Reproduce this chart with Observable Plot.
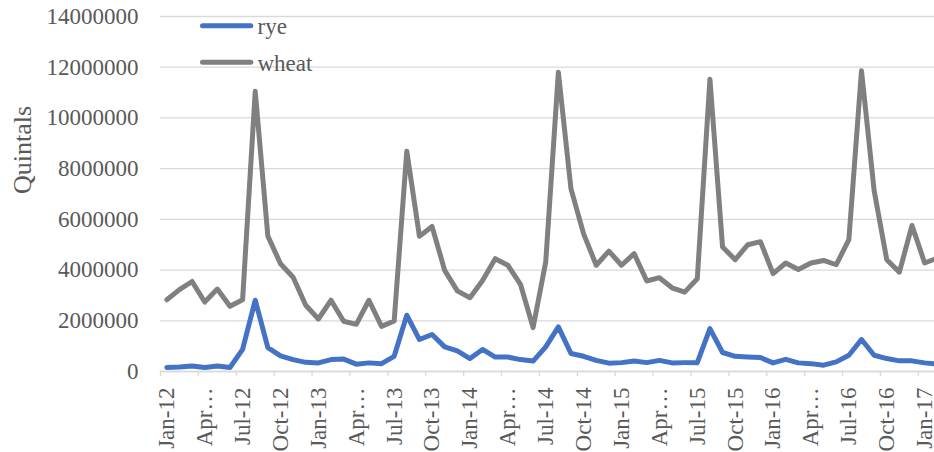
<!DOCTYPE html>
<html>
<head>
<meta charset="utf-8">
<script src="https://cdn.jsdelivr.net/npm/d3@7"></script>
<script src="https://cdn.jsdelivr.net/npm/@observablehq/plot@0.6"></script>
<style>
  body { margin: 0; background: #fff; }
  #wrap { position: relative; width: 934px; height: 452px; overflow: hidden; font-family: "Liberation Serif", "Times New Roman", serif; }
  #legend { position: absolute; left: 0; top: 0; pointer-events: none; }
</style>
</head>
<body>
<div id="wrap"></div>
<script>
// Category tick labels (every third month, Jan-12 .. Jan-17)
const tickLabels = ["Jan-12","Apr…","Jul-12","Oct-12","Jan-13","Apr…","Jul-13","Oct-13",
  "Jan-14","Apr…","Jul-14","Oct-14","Jan-15","Apr…","Jul-15","Oct-15",
  "Jan-16","Apr…","Jul-16","Oct-16","Jan-17"];

// Monthly values, Jan-12 .. Feb-17 (quintals)
const rye = [160000,180000,220000,160000,220000,160000,870000,2810000,940000,620000,
  470000,360000,340000,470000,490000,290000,340000,310000,600000,2220000,
  1260000,1460000,970000,810000,510000,870000,570000,570000,470000,410000,
  970000,1760000,710000,600000,440000,330000,350000,410000,350000,440000,
  340000,350000,350000,1690000,750000,600000,570000,550000,340000,480000,
  340000,310000,250000,380000,640000,1260000,640000,510000,420000,420000,
  340000,290000];

const wheat = [2830000,3230000,3550000,2740000,3250000,2570000,2830000,11050000,5340000,4250000,
  3720000,2610000,2070000,2810000,1980000,1860000,2810000,1780000,1990000,8690000,
  5330000,5720000,3990000,3180000,2910000,3590000,4450000,4190000,3440000,1730000,
  4320000,11800000,7200000,5430000,4190000,4750000,4190000,4650000,3570000,3700000,
  3300000,3130000,3660000,11530000,4910000,4410000,5000000,5120000,3860000,4280000,
  4020000,4280000,4380000,4210000,5200000,11860000,7140000,4410000,3920000,5760000,
  4280000,4470000];

const seriesNames = ["rye", "wheat"];
const seriesColors = ["#4472C4", "#808080"];
const yTicks = [0, 2000000, 4000000, 6000000, 8000000, 10000000, 12000000, 14000000];

const rows = [
  ...rye.map((v, i) => ({ i, v, s: "rye" })),
  ...wheat.map((v, i) => ({ i, v, s: "wheat" }))
];
const labelIdx = tickLabels.map((_, k) => k * 3);
const boundaries = tickLabels.map((_, k) => k * 3 - 0.5);

const chart = Plot.plot({
  width: 934,
  height: 452,
  marginLeft: 160,
  marginRight: 0,
  marginTop: 16,
  marginBottom: 81,
  style: { fontFamily: "'Liberation Serif', 'Times New Roman', serif", fontSize: "23px", color: "#595959", background: "#fff" },
  x: { type: "linear", domain: [-0.5, 60.78] },
  y: { domain: [0, 14000000] },
  color: { domain: seriesNames, range: seriesColors },
  marks: [
    Plot.gridY(yTicks, { stroke: "#D9D9D9", strokeOpacity: 1, strokeWidth: 1.3 }),
    Plot.axisY(yTicks, { tickSize: 0, tickPadding: 22, tickFormat: d => String(d), label: null, fill: "#595959" }),
    Plot.text(["Quintals"], { frameAnchor: "left", rotate: -90, dx: -138, fontSize: 26, fill: "#595959" }),
    Plot.axisX(boundaries, { tickSize: 5, tickFormat: () => "", stroke: "#D9D9D9", strokeWidth: 1.3, label: null }),
    Plot.axisX(labelIdx, { tickSize: 0, tickRotate: -90, tickPadding: 16, tickFormat: d => tickLabels[d / 3], label: null, fill: "#595959" }),
    Plot.ruleY([0], { stroke: "#D9D9D9", strokeWidth: 1.3 }),
    Plot.line(rows, { x: "i", y: "v", z: "s", stroke: "s", strokeWidth: 5, strokeLinejoin: "round", strokeLinecap: "round", clip: true })
  ]
});

const wrap = document.getElementById("wrap");
wrap.appendChild(chart);

// Legend (top-left, inside plot area)
const leg = d3.select(wrap).append("svg")
  .attr("id", "legend").attr("width", 934).attr("height", 452);
const legY = [25.7, 62.3];
seriesNames.forEach((name, k) => {
  const g = leg.append("g");
  g.append("line").attr("x1", 202.5).attr("x2", 250.8).attr("y1", legY[k]).attr("y2", legY[k])
    .attr("stroke", seriesColors[k]).attr("stroke-width", 5).attr("stroke-linecap", "round");
  g.append("text").attr("x", 257.5).attr("y", legY[k] + 8.6)
    .attr("font-family", "'Liberation Serif', 'Times New Roman', serif").attr("font-size", 23)
    .attr("fill", "#595959").text(name);
});
</script>
</body>
</html>
